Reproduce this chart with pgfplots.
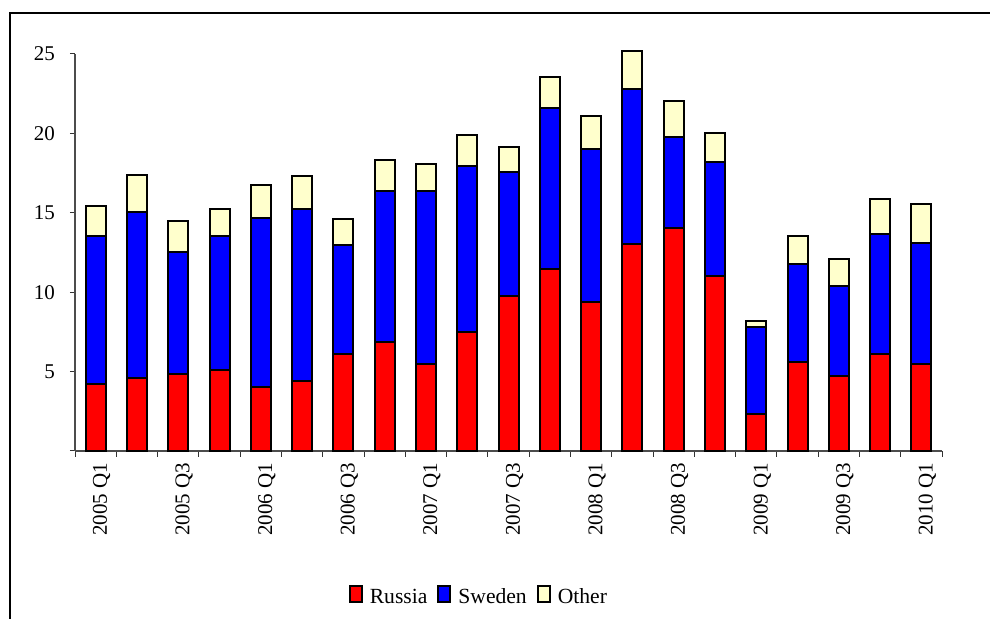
\documentclass[border=0pt]{standalone}
\usepackage{pgfplots}
\pgfplotsset{compat=1.18}
\usepackage{pgfplotstable}
\usepackage{fontspec}
\setmainfont{Liberation Serif}
\definecolor{russia}{HTML}{FF0000}
\definecolor{sweden}{HTML}{0000FF}
\definecolor{other}{HTML}{FFFFCC}
\pgfplotstableread{
x russia sweden other
0 4.20 9.35 1.85
1 4.58 10.44 2.35
2 4.87 7.67 1.96
3 5.08 8.45 1.72
4 4.06 10.64 2.08
5 4.43 10.78 2.10
6 6.11 6.89 1.58
7 6.89 9.51 1.93
8 5.46 10.94 1.68
9 7.52 10.45 1.93
10 9.74 7.81 1.59
11 11.46 10.14 1.96
12 9.38 9.63 2.08
13 13.04 9.76 2.36
14 14.05 5.73 2.25
15 11.03 7.17 1.83
16 2.33 5.45 0.42
17 5.60 6.20 1.72
18 4.72 5.66 1.72
19 6.10 7.55 2.20
20 5.45 7.65 2.48
}\datatable
\begin{document}
\begin{tikzpicture}
\path[use as bounding box] (0,0) rectangle (495pt,309.5pt);
\draw[line width=0.6pt] (5pt,0) -- (5pt,303pt) -- (495pt,303pt);
\begin{axis}[
  at={(37.5pt,84pt)}, anchor=south west,
  scale only axis, width=433.5pt, height=198.5pt,
  ybar stacked, bar width=10pt,
  xmin=-0.5, xmax=20.5, ymin=0, ymax=25,
  enlargelimits=false, clip=false,
  axis x line=bottom, axis y line=left,
  axis line style={-, gray!60!black, line width=0.6pt},
  tick align=outside,
  major tick length=2.5pt,
  minor tick length=3pt,
  tick style={gray!40!black, line width=0.5pt},
  ytick={0,5,10,15,20,25},
  yticklabels={,5,10,15,20,25},
  xtick={0,2,...,20},
  xticklabels={2005 Q1,2005 Q3,2006 Q1,2006 Q3,2007 Q1,2007 Q3,2008 Q1,2008 Q3,2009 Q1,2009 Q3,2010 Q1},
  major x tick style={draw=none},
  minor xtick={-0.5,0.5,...,20.5},
  xticklabel style={rotate=90, anchor=east, yshift=-3pt},
  yticklabel style={xshift=-4pt},
  /pgf/number format/assume math mode=true,
  ticklabel style={font=\fontsize{10.5}{12}\selectfont},
  legend style={at={(0.467,-0.37)}, anchor=center, draw=none, legend columns=-1,
    font=\fontsize{10.8}{12}\selectfont,
    /tikz/every odd column/.append style={column sep=1.5pt},
    /tikz/every even column/.append style={column sep=3pt}},
]
\addplot[fill=russia, draw=black, line width=1pt] table[x=x,y=russia]{\datatable};
\addplot[fill=sweden, draw=black, line width=1pt] table[x=x,y=sweden]{\datatable};
\addplot[fill=other, draw=black, line width=1pt] table[x=x,y=other]{\datatable};
\legend{Russia,Sweden,Other}
\end{axis}
\end{tikzpicture}
\end{document}
